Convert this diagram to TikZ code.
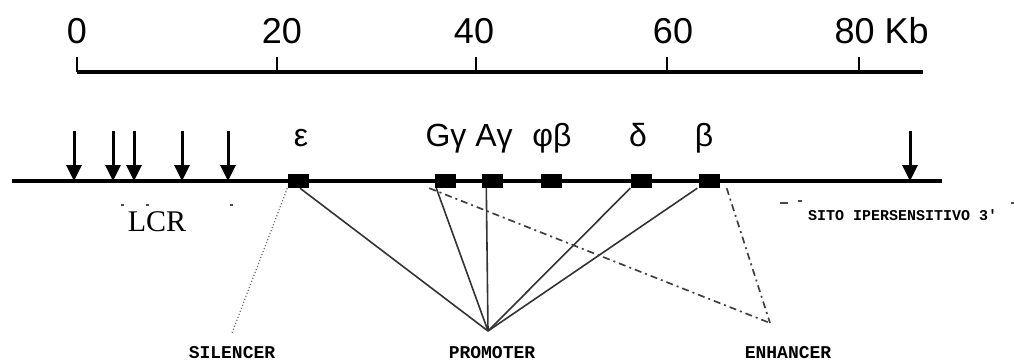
\documentclass[tikz,border=0pt]{standalone}
\usepackage{fontspec}
\setmainfont{Liberation Sans}
\newfontfamily\lcrfont{Liberation Serif}
\newfontfamily\sitefont{Liberation Mono}
\usepackage{tikz}
\usetikzlibrary{arrows.meta, positioning, calc}
\tikzset{
  scaleline/.style={line width=3.4pt},
  scalelabel/.style={anchor=base, font=\fontsize{36}{40}\selectfont},
  geneline/.style={line width=3.4pt},
  genebox/.style={rectangle, fill=black, minimum width=21pt, minimum height=14pt, inner sep=0pt},
  genelabel/.style={anchor=base, font=\fontsize{32}{34}\selectfont},
  hsarrow/.style={-{Triangle[length=16pt, width=15pt]}, line width=3pt},
  promline/.style={line width=1.6pt, draw=black!80},
  silline/.style={line width=1.2pt, draw=black!55, dotted},
  enhline/.style={line width=1.7pt, draw=black!75, dash pattern=on 7pt off 4pt on 2pt off 4pt},
  sitelabel/.style={font=\sitefont\bfseries\fontsize{18}{20}\selectfont, inner sep=0pt},
  tick/.style={line width=1.8pt, draw=black!70}
}

\begin{document}
\begin{tikzpicture}[x=1pt, y=-1pt]
  \useasboundingbox (0,0) rectangle (1014,362);

  % Scale bar (Kb)
  \draw[scaleline] (77,72) -- (923,72);
  \foreach \x/\lx/\lab in {77/77/0, 277/282/20, 476/474/40, 667/673/60}
    {
      \draw[line width=2.8pt] (\x,72) -- (\x,57);
      \node[scalelabel] at (\lx,43) {\lab};
    }
  \draw[line width=2.8pt] (859,72) -- (859,57);
  \node[scalelabel, anchor=base west] (kb) at (831,43) {80 Kb};

  % Gene line
  \coordinate (gstart) at (12,181);
  \coordinate (gend) at (942,181);
  \draw[geneline] (gstart) -- (gend);

  % Hypersensitive sites
  \foreach \x [count=\i] in {74,113,134,182,228,910}
    {
      \coordinate (hs\i) at (\x,131);
      \draw[hsarrow] (hs\i) -- (hs\i |- gstart);
    }

  % Globin genes
  \node[genebox] (eps) at (298,181) {};
  \node[genebox] (gg)  at (445,181) {};
  \node[genebox] (ag)  at (492,181) {};
  \node[genebox] (pb)  at (551,181) {};
  \node[genebox] (del) at (641,181) {};
  \node[genebox] (bet) at (709,181) {};

  \node[genelabel] at (301,146) {ε};
  \node[genelabel] at (446,146) {Gγ};
  \node[genelabel] at (494,146) {Aγ};
  \node[genelabel] at (552,146) {φβ};
  \node[genelabel] at (638,146) {δ};
  \node[genelabel] at (704,146) {β};

  % LCR and 3' site
  \node[font=\lcrfont\fontsize{30}{32}\selectfont] (lcr) at (157,222) {LCR};
  \node[sitelabel, font=\sitefont\bfseries\fontsize{15}{17}\selectfont, anchor=west] (hs3) at (808,215) {SITO IPERSENSITIVO 3'};
  \foreach \x/\y/\w in {121/205/3, 146/205/3, 230/205/3, 780/203/8, 798/201/4, 1011/203/3}
    \draw[tick] (\x,\y) -- ++(\w,0);

  % Regulatory elements
  \coordinate (sil) at (232,333);
  \coordinate (prom) at (488,331);
  \coordinate (enh) at (770,323);

  \draw[silline] (eps.south west) -- (sil);

  \draw[promline] ([xshift=2pt]eps.south) -- (prom);
  \draw[promline] ([xshift=2pt]gg.south west) -- (prom);
  \draw[promline] ([xshift=5pt]ag.south west) -- (prom);
  \draw[promline] (del.south west) -- (prom);
  \draw[promline] ([xshift=-1pt]bet.south west) -- (prom);

  \draw[enhline] ([xshift=-5pt]gg.south west) -- (enh);
  \draw[enhline] ([xshift=7pt]bet.south east) -- (enh);

  \node[sitelabel] (silencer) at (232,353) {SILENCER};
  \node[sitelabel] (promoter) at (492,353) {PROMOTER};
  \node[sitelabel] (enhancer) at (788,353) {ENHANCER};
\end{tikzpicture}
\end{document}
